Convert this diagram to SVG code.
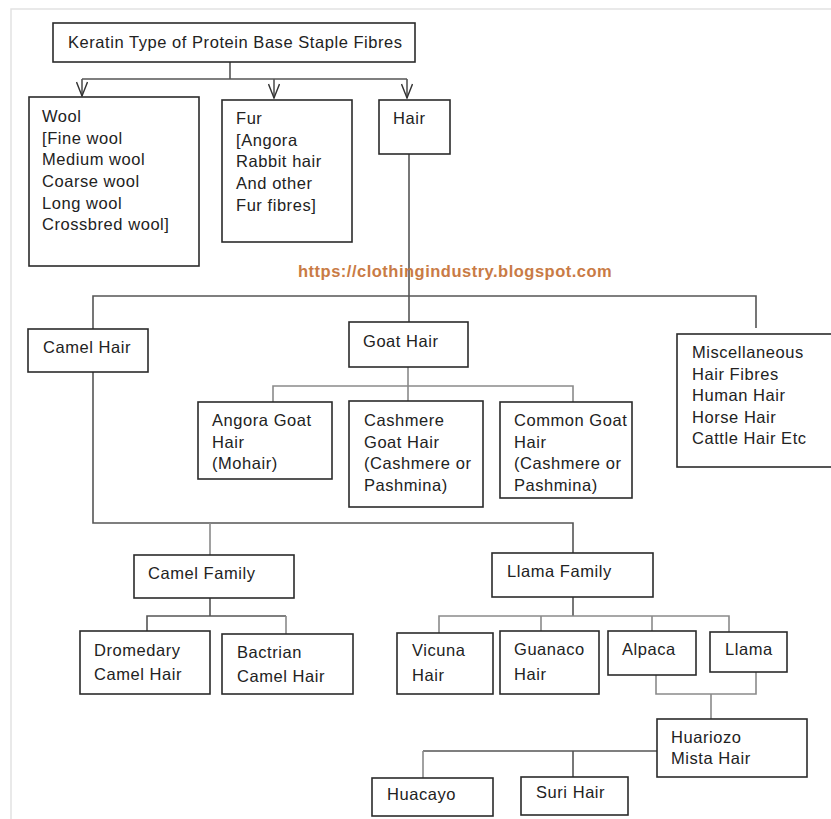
<svg xmlns="http://www.w3.org/2000/svg" width="831" height="819" viewBox="0 0 831 819">
  <defs>
    <marker id="vee" viewBox="0 0 16 12" refX="15" refY="6" markerWidth="16" markerHeight="12" markerUnits="userSpaceOnUse" orient="auto">
      <path d="M1,0.5 L15,6 L1,11.5" fill="none" stroke="#333" stroke-width="1.4"/>
    </marker>
  </defs>
  <style>
    .box { fill: #fff; stroke: #2b2b2b; stroke-width: 1.6; }
    .t { font-family: "Liberation Sans", Arial, sans-serif; font-size: 16.5px; letter-spacing: 0.55px; fill: #222; }
    .wire { fill: none; stroke: #555; stroke-width: 1.6; }
    .wire.lt { stroke: #8a8a8a; }
    .mark { font-family: "Liberation Sans", Arial, sans-serif; font-weight: bold; font-size: 16.5px; letter-spacing: 0.5px; fill: #c97b45; }
  </style>
  <rect width="831" height="819" fill="#fff"/>
  <!-- page frame -->
  <path d="M11,819 V9 H831" fill="none" stroke="#e2e2e2" stroke-width="1.5"/>

  <!-- connectors -->
  <g id="connectors">
    <path class="wire" d="M230,62 V79 M82,79 H407"/>
    <path class="wire" d="M82,79 V96" marker-end="url(#vee)"/>
    <path class="wire" d="M274,79 V98" marker-end="url(#vee)"/>
    <path class="wire" d="M407,79 V98" marker-end="url(#vee)"/>
    <path class="wire" d="M409,154 V322"/>
    <path class="wire" d="M93,329 V296 H756 V328"/>
    <path class="wire lt" d="M408,367 V401 M273,402 V386 H573 V402"/>
    <path class="wire" d="M93,372 V523 H573 V553"/>
    <path class="wire lt" d="M210,523 V555"/>
    <path class="wire" d="M210,598 V616 M147,631 V616 H286"/>
    <path class="wire lt" d="M286,616 V634"/>
    <path class="wire" d="M573,597 V616"/>
    <path class="wire lt" d="M439,633 V616 H729 V632 M541,616 V631 M652,616 V631"/>
    <path class="wire lt" d="M656,675 V694 H756 V672 M711,694 V719"/>
    <path class="wire" d="M657,751 H423"/>
    <path class="wire lt" d="M423,751 V778"/>
    <path class="wire" d="M573,751 V777"/>
  </g>

  <g id="n-keratin">
    <rect class="box" x="53" y="23" width="362" height="39"/>
    <text class="t" x="68" y="48">Keratin Type of Protein Base Staple Fibres</text>
  </g>
  <g id="n-wool">
    <rect class="box" x="29" y="97" width="170" height="169"/>
    <text class="t" x="42" y="122">Wool</text>
    <text class="t" x="42" y="143.5">[Fine wool</text>
    <text class="t" x="42" y="165">Medium wool</text>
    <text class="t" x="42" y="187">Coarse wool</text>
    <text class="t" x="42" y="208.5">Long wool</text>
    <text class="t" x="42" y="230">Crossbred wool]</text>
  </g>
  <g id="n-fur">
    <rect class="box" x="222" y="100" width="130" height="142"/>
    <text class="t" x="236" y="124">Fur</text>
    <text class="t" x="236" y="145.5">[Angora</text>
    <text class="t" x="236" y="167">Rabbit hair</text>
    <text class="t" x="236" y="189">And other</text>
    <text class="t" x="236" y="210.5">Fur fibres]</text>
  </g>
  <g id="n-hair">
    <rect class="box" x="379" y="100" width="71" height="54"/>
    <text class="t" x="393" y="124">Hair</text>
  </g>

  <text class="mark" x="298" y="277">https://clothingindustry.blogspot.com</text>

  <g id="n-camel-hair">
    <rect class="box" x="28" y="329" width="120" height="43"/>
    <text class="t" x="43" y="353">Camel Hair</text>
  </g>
  <g id="n-goat-hair">
    <rect class="box" x="349" y="322" width="119" height="45"/>
    <text class="t" x="363" y="347">Goat Hair</text>
  </g>
  <g id="n-misc">
    <rect class="box" x="677" y="334" width="160" height="133"/>
    <text class="t" x="692" y="358">Miscellaneous</text>
    <text class="t" x="692" y="379.5">Hair Fibres</text>
    <text class="t" x="692" y="401">Human Hair</text>
    <text class="t" x="692" y="422.5">Horse Hair</text>
    <text class="t" x="692" y="444">Cattle Hair Etc</text>
  </g>
  <g id="n-angora-goat">
    <rect class="box" x="198" y="402" width="134" height="77"/>
    <text class="t" x="212" y="426">Angora Goat</text>
    <text class="t" x="212" y="447.5">Hair</text>
    <text class="t" x="212" y="469">(Mohair)</text>
  </g>
  <g id="n-cashmere-goat">
    <rect class="box" x="349" y="401" width="134" height="106"/>
    <text class="t" x="364" y="426">Cashmere</text>
    <text class="t" x="364" y="447.5">Goat Hair</text>
    <text class="t" x="364" y="469">(Cashmere or</text>
    <text class="t" x="364" y="490.5">Pashmina)</text>
  </g>
  <g id="n-common-goat">
    <rect class="box" x="500" y="402" width="132" height="96"/>
    <text class="t" x="514" y="426">Common Goat</text>
    <text class="t" x="514" y="447.5">Hair</text>
    <text class="t" x="514" y="469">(Cashmere or</text>
    <text class="t" x="514" y="490.5">Pashmina)</text>
  </g>

  <g id="n-camel-family">
    <rect class="box" x="134" y="555" width="160" height="43"/>
    <text class="t" x="148" y="579">Camel Family</text>
  </g>
  <g id="n-llama-family">
    <rect class="box" x="492" y="553" width="161" height="44"/>
    <text class="t" x="507" y="577">Llama Family</text>
  </g>
  <g id="n-dromedary">
    <rect class="box" x="80" y="631" width="130" height="63"/>
    <text class="t" x="94" y="656">Dromedary</text>
    <text class="t" x="94" y="680">Camel Hair</text>
  </g>
  <g id="n-bactrian">
    <rect class="box" x="222" y="634" width="131" height="60"/>
    <text class="t" x="237" y="658">Bactrian</text>
    <text class="t" x="237" y="682">Camel Hair</text>
  </g>
  <g id="n-vicuna">
    <rect class="box" x="397" y="633" width="96" height="61"/>
    <text class="t" x="412" y="656">Vicuna</text>
    <text class="t" x="412" y="681">Hair</text>
  </g>
  <g id="n-guanaco">
    <rect class="box" x="500" y="631" width="99" height="63"/>
    <text class="t" x="514" y="655">Guanaco</text>
    <text class="t" x="514" y="680">Hair</text>
  </g>
  <g id="n-alpaca">
    <rect class="box" x="608" y="631" width="88" height="44"/>
    <text class="t" x="622" y="655">Alpaca</text>
  </g>
  <g id="n-llama">
    <rect class="box" x="710" y="632" width="77" height="40"/>
    <text class="t" x="725" y="655">Llama</text>
  </g>
  <g id="n-huariozo">
    <rect class="box" x="657" y="719" width="150" height="58"/>
    <text class="t" x="671" y="743">Huariozo</text>
    <text class="t" x="671" y="764">Mista Hair</text>
  </g>
  <g id="n-huacayo">
    <rect class="box" x="372" y="778" width="121" height="38"/>
    <text class="t" x="387" y="800">Huacayo</text>
  </g>
  <g id="n-suri">
    <rect class="box" x="521" y="777" width="107" height="38"/>
    <text class="t" x="536" y="798">Suri Hair</text>
  </g>
</svg>
